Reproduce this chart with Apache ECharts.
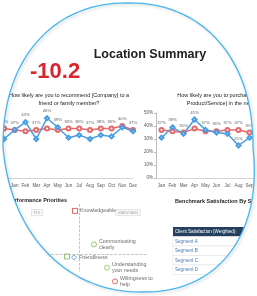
<!DOCTYPE html>
<html>
<head>
<meta charset="utf-8">
<script src="https://cdn.jsdelivr.net/npm/echarts@6/dist/echarts.min.js"></script>
<style>
  html, body { margin: 0; padding: 0; background: #fff; }
  #main { width: 257px; height: 296px; }
</style>
</head>
<body>
<div id="main"></div>
<script>
  // recommend chart (13 points, first one is prior Dec)
  var recMonths = ['Dec', 'Jan', 'Feb', 'Mar', 'Apr', 'May', 'Jun', 'Jul', 'Aug', 'Sep', 'Oct', 'Nov', 'Dec'];
  var recLocation = [30, 37, 43, 30, 46, 39, 31, 33, 30, 33, 32, 39, 36];
  var recBenchmark = [38, 37, 36, 37, 38, 37, 38, 38, 37, 38, 38, 40, 37];

  // purchase chart
  var buyMonths = ['Jan', 'Feb', 'Mar', 'Apr', 'May', 'Jun', 'Jul', 'Aug', 'Sep', 'Oct', 'Nov', 'Dec'];
  var buyLocation = [31, 39, 34, 45, 37, 35, 34, 25, 31, 33, 34, 36];
  var buyBenchmark = [37, 36, 35, 38, 36, 36, 37, 37, 35, 36, 37, 36];
  var pctMax = 50, pctStep = 10;

  // performance priorities
  var priorityNames = ['Knowledgeable', 'Communicating\nclearly', 'Friendliness', '', 'Understanding\nyour needs', 'Willingness to\nhelp'];
  var priorityImportance = [28, 47, 27, 20, 60, 68];
  var priorityPerformance = [92, 53, 38, 39, 26, 10];
  var quadrantNames = ['FIX', 'MAINTAIN'];
  var quadrantImportance = [-10, 81];
  var quadrantPerformance = [90, 90];
  var importanceDivider = 32, performanceDivider = 42;

  // benchmark table
  var tableHeader = 'Client Satisfaction (Weighted)';
  var segments = ['Segment A', 'Segment B', 'Segment C', 'Segment D'];
  var score = '-10.2';

  var font = "'Liberation Sans', Arial, sans-serif";
  var blue = '#4a9de0', red = '#e4696b';

  var myChart = echarts.init(document.getElementById('main'));

  function labelled(own, other, strict) {
    return own.map(function (v, i) {
      var show = strict ? v > other[i] : v >= other[i];
      if (other[i] - v > 8) show = true;
      return { value: v, label: { show: show } };
    });
  }

  function lineSeries(idx, own, other, color, symbol, strict) {
    return {
      type: 'line',
      xAxisIndex: idx,
      yAxisIndex: idx,
      data: labelled(own, other, strict),
      symbol: symbol,
      symbolSize: 4,
      lineStyle: { color: color, width: 1.5 },
      itemStyle: { color: color, borderWidth: 1 },
      label: {
        position: 'top',
        distance: 2,
        fontSize: 4.3,
        fontFamily: font,
        color: '#666',
        formatter: '{c}%'
      },
      animation: false
    };
  }

  function monthAxis(idx, data, gap) {
    return {
      type: 'category',
      gridIndex: idx,
      data: data,
      boundaryGap: gap,
      axisLine: { lineStyle: { color: '#d4d4d4', width: 1 } },
      axisTick: { show: false },
      axisLabel: { fontSize: 4.5, color: '#555', fontFamily: font, margin: 5, interval: 0 }
    };
  }

  // lens outline: rounded oval, lower half leaning slightly right
  var cx = 128, cy = 147.5, rx = 125, ry = 144.5, pw = 2 / 2.2;
  function sp(v) { return (v < 0 ? -1 : 1) * Math.pow(Math.abs(v), pw); }
  var ring = [];
  for (var k = 0; k < 240; k++) {
    var u = k / 240 * Math.PI * 2;
    var y = cy + ry * sp(Math.sin(u));
    var x = cx - rx * sp(Math.cos(u)) + (y > cy ? 0.1 * (y - cy) : 0);
    ring.push([x, y]);
  }
  var maskPts = [[0, 0], [257, 0], [257, 296], [0, 296], [0, cy]].concat(ring).concat([ring[0], [0, cy]]);

  var rowH = 9.5, headTop = 227, tableLeft = 173;
  var tableEls = [
    { type: 'rect', shape: { x: tableLeft, y: headTop, width: 90, height: rowH }, style: { fill: '#24405e' }, z: 10 },
    { type: 'text', x: tableLeft + 2, y: headTop + rowH / 2, style: { text: tableHeader, fill: '#fff', fontSize: 4.6, fontFamily: font, verticalAlign: 'middle' }, z: 11 }
  ];
  segments.forEach(function (s, i) {
    var y0 = headTop + rowH * (i + 1);
    tableEls.push({ type: 'rect', shape: { x: tableLeft, y: y0, width: 90, height: rowH }, style: { fill: '#fff', stroke: '#e2e2e2', lineWidth: 0.6 }, z: 10 });
    tableEls.push({ type: 'text', x: tableLeft + 2, y: y0 + rowH / 2, style: { text: s, fill: '#4a78b0', fontSize: 4.6, fontFamily: font, verticalAlign: 'middle' }, z: 11 });
  });

  var option = {
    animation: false,
    title: [
      { text: 'Location Summary', left: 150, top: 48, textAlign: 'center', padding: 0,
        textStyle: { fontSize: 12.5, fontWeight: 'bold', color: '#222', fontFamily: font } },
      { text: score, left: 30, top: 61, padding: 0,
        textStyle: { fontSize: 22, fontWeight: 'bold', color: '#d7262e', fontFamily: font } },
      { text: 'How likely are you to recommend [Company] to a\nfriend or family member?', left: 69, top: 91, textAlign: 'center', padding: 0,
        textStyle: { fontSize: 5.5, lineHeight: 8, fontWeight: 'normal', color: '#222', fontFamily: font } },
      { text: 'How likely are you to purchase [Company\nProduct/Service] in the next year?', left: 228, top: 91, textAlign: 'center', padding: 0,
        textStyle: { fontSize: 5.5, lineHeight: 8, fontWeight: 'normal', color: '#222', fontFamily: font } },
      { text: 'Performance Priorities', left: 8, top: 197, padding: 0,
        textStyle: { fontSize: 5.5, fontWeight: 'bold', color: '#222', fontFamily: font } },
      { text: 'Benchmark Satisfaction By Segment', left: 175, top: 198, padding: 0,
        textStyle: { fontSize: 5.5, fontWeight: 'bold', color: '#222', fontFamily: font } }
    ],
    grid: [
      { left: 4, top: 113, width: 129, height: 65, outerBoundsMode: 'none' },
      { left: 156, top: 113, width: 132, height: 65, outerBoundsMode: 'none' },
      { left: 47, top: 204, width: 100, height: 86, outerBoundsMode: 'none' }
    ],
    xAxis: [
      monthAxis(0, recMonths, false),
      monthAxis(1, buyMonths, true),
      { type: 'value', gridIndex: 2, min: 0, max: 100, show: false }
    ],
    yAxis: [
      { type: 'value', gridIndex: 0, min: 0, max: pctMax, interval: pctStep, show: false },
      { type: 'value', gridIndex: 1, min: 0, max: pctMax, interval: pctStep,
        axisLine: { show: true, lineStyle: { color: '#bdbdbd' } },
        axisTick: { show: true, length: 2, lineStyle: { color: '#bdbdbd' } },
        splitLine: { show: false },
        axisLabel: { fontSize: 4.5, color: '#555', fontFamily: font, margin: 3, formatter: '{value}%' } },
      { type: 'value', gridIndex: 2, min: 0, max: 100, show: false }
    ],
    series: [
      lineSeries(0, recBenchmark, recLocation, red, 'emptyCircle', true),
      lineSeries(0, recLocation, recBenchmark, blue, 'emptyDiamond', false),
      lineSeries(1, buyBenchmark, buyLocation, red, 'emptyCircle', true),
      lineSeries(1, buyLocation, buyBenchmark, blue, 'emptyDiamond', false),
      {
        type: 'scatter',
        xAxisIndex: 2,
        yAxisIndex: 2,
        clip: false,
        symbolSize: 5,
        data: priorityNames.map(function (n, i) {
          var st = [
            ['rect', '#d9413f'], ['circle', '#7cb84a'], ['diamond', '#3b8fd9'],
            ['rect', '#7cb84a'], ['circle', '#8cc152'], ['circle', '#d9413f']
          ][i];
          return {
            name: n,
            value: [priorityImportance[i], priorityPerformance[i]],
            symbol: st[0],
            itemStyle: { color: '#fff', borderColor: st[1], borderWidth: 1 }
          };
        }),
        label: {
          show: true, position: 'right', distance: 2, fontSize: 5.3, lineHeight: 6,
          color: '#444', fontFamily: font, formatter: '{b}'
        },
        markLine: {
          silent: true,
          symbol: 'none',
          label: { show: false },
          lineStyle: { type: 'dashed', color: '#aaa', width: 0.7 },
          data: [
            [{ coord: [importanceDivider, 100] }, { coord: [importanceDivider, 21] }],
            [{ coord: [0, performanceDivider] }, { coord: [100, performanceDivider] }]
          ]
        }
      },
      {
        type: 'scatter',
        xAxisIndex: 2,
        yAxisIndex: 2,
        clip: false,
        symbolSize: 0,
        data: quadrantNames.map(function (n, i) {
          return { name: n, value: [quadrantImportance[i], quadrantPerformance[i]] };
        }),
        label: {
          show: true, position: 'inside', fontSize: 4.3, color: '#999', fontFamily: font,
          borderColor: '#ccc', borderWidth: 0.5, padding: [1, 2], backgroundColor: '#f6f6f6',
          formatter: '{b}'
        }
      }
    ],
    graphic: tableEls.concat([
      { type: 'polygon', shape: { points: maskPts }, style: { fill: '#fff' }, z: 100, silent: true },
      { type: 'polygon', shape: { points: ring }, style: { fill: null, stroke: '#45b6ee', lineWidth: 1.3,
        shadowColor: 'rgba(0,0,0,0.18)', shadowBlur: 3, shadowOffsetX: 1.5, shadowOffsetY: 1.5 }, z: 101, silent: true }
    ])
  };

  myChart.setOption(option);
</script>
</body>
</html>
